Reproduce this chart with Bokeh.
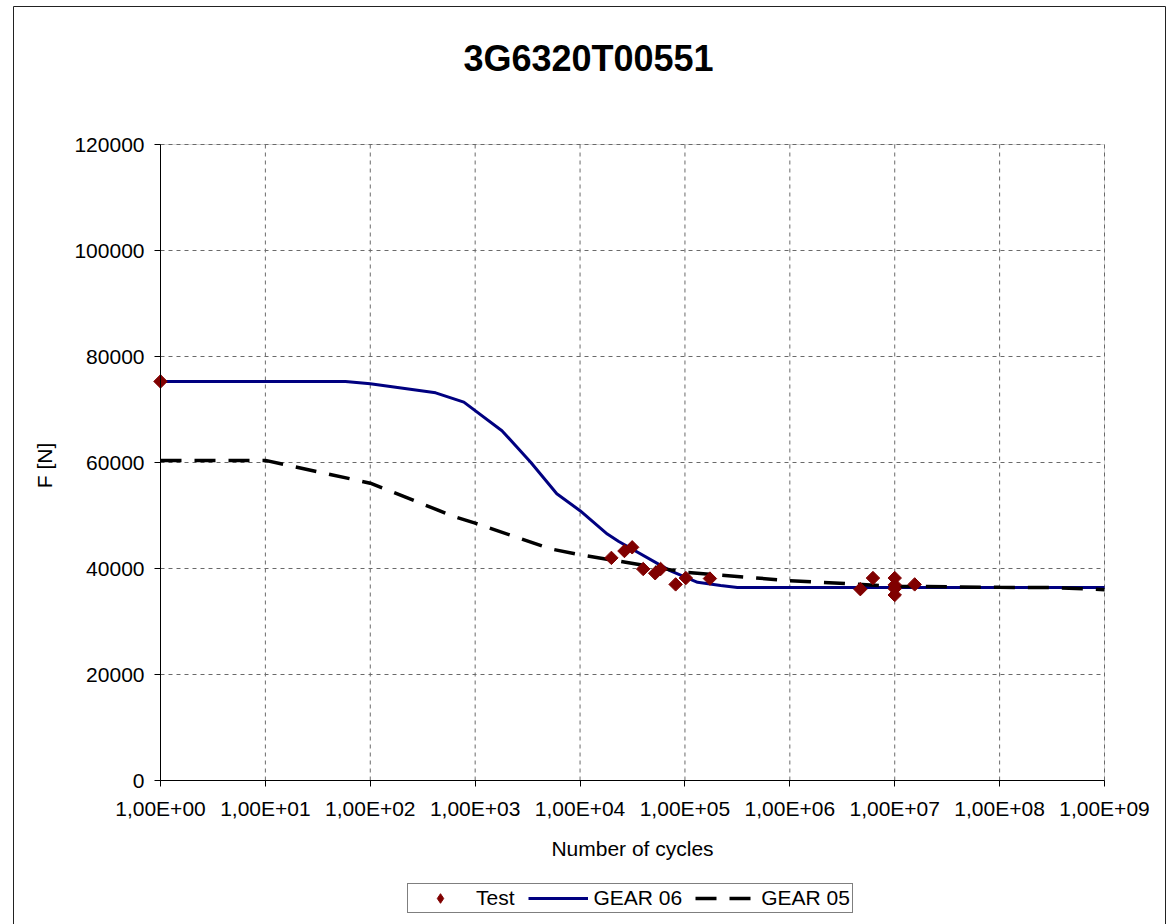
import math
from bokeh.plotting import figure
from bokeh.models import (FixedTicker, CustomJSTickFormatter, NumeralTickFormatter,
                          Legend, LegendItem, Range1d, Label, BoxAnnotation)
from bokeh.embed import file_html
from bokeh.resources import INLINE

# ---------------- data ----------------
title_text = "3G6320T00551"
x_label = "Number of cycles"
y_label = "F [N]"

test_n = [1, 19900, 26500, 31400, 40000, 52000, 58600, 81500, 102000, 173000,
          4.7e6, 6.2e6, 1e7, 1e7, 1e7, 1e7, 1.55e7]
test_f = [75300, 42000, 43300, 44000, 39900, 39100, 39900, 37000, 38200, 38100,
          36100, 38200, 38200, 36900, 36200, 35000, 37000]

gear06_n = [1, 58, 100, 420, 780, 1800, 3400, 6000, 10000, 18200, 23400,
            72000, 132000, 219000, 316000, 1e9]
gear06_f = [75300, 75300, 74850, 73150, 71400, 66000, 60000, 54100, 50900, 46500, 45100,
            39600, 37400, 36800, 36400, 36400]

gear05_n = [1, 10, 100, 650, 1000, 5250, 10000, 100000, 1e6, 1e7, 1e8, 3e8, 1e9]
gear05_f = [60400, 60400, 56100, 49700, 48550, 43700, 42600, 39300, 37700, 36650, 36450, 36400, 36000]

x_ticks = [10 ** k for k in range(0, 10)]
y_ticks = [0, 20000, 40000, 60000, 80000, 100000, 120000]

FONT = "Liberation Sans"

# ---------------- layout constants (pixels) ----------------
# The frame covers the whole chart box; the plotting area sits inside it.
BOX_L, BOX_T = 13, 6            # chart box corner in the window
PA_L, PA_R = 147, 1091          # plotting area left/right inside the frame
PA_T, PA_B = 138, 774           # plotting area top/bottom inside the frame
FRAME_W, FRAME_H = 1153, 930
LEFT_PANEL = 150                # left panel (kept outside the window)

x_lo_l, x_hi_l = math.log10(x_ticks[0]), math.log10(x_ticks[-1])
dpx = (x_hi_l - x_lo_l) / (PA_R - PA_L)
x_start = 10 ** (x_lo_l - PA_L * dpx)
x_end = 10 ** (x_hi_l + (FRAME_W - PA_R) * dpx)

y_max = y_ticks[-1]
u = y_max / (PA_B - PA_T)
y_hi = y_max + PA_T * u
y_lo = -(FRAME_H - PA_B) * u

p = figure(frame_width=FRAME_W, frame_height=FRAME_H, x_axis_type="log",
           output_backend="svg", toolbar_location=None, title_location=None,
           x_range=Range1d(x_start, x_end), y_range=Range1d(y_lo, y_hi),
           min_border_left=LEFT_PANEL, min_border_right=0, min_border_top=0, min_border_bottom=0)
p.styles = {"margin-left": f"{BOX_L - LEFT_PANEL}px", "margin-top": f"{BOX_T}px"}

p.background_fill_color = "white"
p.border_fill_color = "white"
p.outline_line_color = "#222222"
p.outline_line_width = 1

# axes
for ax in (p.xaxis[0], p.yaxis[0]):
    ax.axis_line_color = "black"
    ax.major_tick_line_color = "black"
    ax.major_tick_out = 6
    ax.major_tick_in = 0
    ax.minor_tick_line_color = None
    ax.major_label_text_font = FONT
    ax.major_label_text_font_size = "21px"
    ax.major_label_text_color = "black"
    ax.axis_label = None

p.xaxis.ticker = FixedTicker(ticks=x_ticks)
p.xaxis.formatter = CustomJSTickFormatter(code="""
    const e = Math.round(Math.log10(tick));
    const s = (e < 0 ? '-' : '+') + String(Math.abs(e)).padStart(2, '0');
    return '1,00E' + s;
""")
p.xaxis.major_label_standoff = 10
p.xaxis.fixed_location = 0
p.xaxis.bounds = (x_ticks[0], x_ticks[-1])

p.yaxis.ticker = FixedTicker(ticks=y_ticks)
p.yaxis.formatter = NumeralTickFormatter(format="0")
p.yaxis.major_label_standoff = 10
p.yaxis.fixed_location = x_ticks[0]
p.yaxis.bounds = (0, y_max)

# grid (limited to the plotting area)
p.xgrid.visible = False
p.ygrid.visible = False
p.segment(x0=x_ticks, y0=[0] * len(x_ticks), x1=x_ticks, y1=[y_max] * len(x_ticks),
          line_color="#6a6a6a", line_dash="4 4", line_width=1)
p.segment(x0=[x_ticks[0]] * len(y_ticks), y0=y_ticks, x1=[x_ticks[-1]] * len(y_ticks), y1=y_ticks,
          line_color="#6a6a6a", line_dash="4 4", line_width=1)

# plot-area border
p.add_layout(BoxAnnotation(left=x_ticks[0], right=x_ticks[-1], bottom=0, top=y_max,
                           fill_alpha=0, line_color="#808080", line_width=1, level="underlay"))

# series
r06 = p.line(gear06_n, gear06_f, line_color="#000080", line_width=3)
r05 = p.line(gear05_n, gear05_f, line_color="black", line_width=3.5, line_dash="21 13")
# legend symbol (legend markers are drawn unrotated), hidden under the first test point
rt_leg = p.scatter(test_n[:1], test_f[:1], marker="diamond", size=9,
                   fill_color="#800000", line_color="#800000")
rt = p.scatter(test_n, test_f, marker="square", size=9.5, angle=math.pi / 4,
               fill_color="#800000", line_color="#800000")

# texts (frame-relative screen positions: x from frame left, y from frame bottom)
p.add_layout(Label(x=588 - BOX_L, y=FRAME_H - (58 - BOX_T), x_units="screen", y_units="screen",
                   text=title_text, text_font=FONT, text_font_size="36px",
                   text_font_style="bold", text_color="black",
                   text_align="center", text_baseline="middle"))
p.add_layout(Label(x=632 - BOX_L, y=FRAME_H - (848 - BOX_T), x_units="screen", y_units="screen",
                   text=x_label, text_font=FONT, text_font_size="21px",
                   text_color="black", text_align="center", text_baseline="middle"))
p.add_layout(Label(x=44 - BOX_L, y=FRAME_H - (465 - BOX_T), x_units="screen", y_units="screen",
                   text=y_label, text_font=FONT, text_font_size="21px", angle=math.pi / 2,
                   text_color="black", text_align="center", text_baseline="middle"))

legend = Legend(items=[LegendItem(label="Test", renderers=[rt_leg]),
                       LegendItem(label="GEAR 06", renderers=[r06]),
                       LegendItem(label="GEAR 05", renderers=[r05])],
                orientation="horizontal",
                location=(407 - BOX_L, FRAME_H - (913 - BOX_T)))
legend.label_text_font = FONT
legend.label_text_font_size = "21px"
legend.label_text_color = "black"
legend.glyph_width = 60
legend.glyph_height = 24
legend.label_standoff = 6
legend.spacing = 13
legend.padding = 2
legend.margin = 0
legend.border_line_color = "black"
legend.border_line_width = 1
legend.background_fill_color = "white"
legend.background_fill_alpha = 1
p.add_layout(legend, "center")

open("out.html", "w").write(file_html(p, INLINE))
